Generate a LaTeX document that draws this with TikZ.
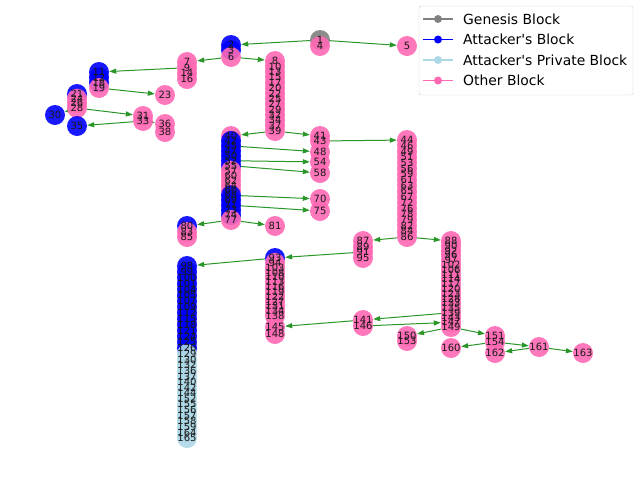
\documentclass[tikz,border=0pt]{standalone}
\usepackage{fontspec}
\setmainfont{DejaVu Sans}
\usetikzlibrary{arrows.meta}
\pgfdeclarelayer{bg}
\pgfsetlayers{bg,main}
\definecolor{genesis}{HTML}{808080}
\definecolor{attacker}{HTML}{0000FF}
\definecolor{private}{HTML}{ADD8E6}
\definecolor{other}{HTML}{FF69B4}
\definecolor{edgegreen}{HTML}{2A962A}
\tikzset{
  blk/.style={circle, minimum size=20pt, inner sep=0pt, fill opacity=0.9},
  lbl/.style={font=\fontsize{10}{10}\selectfont, inner sep=0pt, text=black!90},
  link/.style={draw=edgegreen, line width=1pt, -{Triangle[length=7pt,width=5pt]}},
  legtext/.style={font=\fontsize{13.9}{16}\selectfont, anchor=west, inner sep=0pt},
}
\begin{document}
\begin{tikzpicture}[x=1pt,y=-1pt]
\useasboundingbox (0,0) rectangle (640,480);

% ---- blocks ----
\node[blk, fill=genesis] (n1) at (320,40) {};
\node[blk, fill=attacker] (n2) at (231,45) {};
\node[blk, fill=attacker] (n3) at (231,50) {};
\node[blk, fill=other] (n4) at (320,46) {};
\node[blk, fill=other] (n5) at (407,46) {};
\node[blk, fill=other] (n6) at (231,57) {};
\foreach \n [count=\i from 0] in {7,9,14,16}
  \node[blk, fill=other] (n\n) at (187,{62+5.67*\i}) {};
\foreach \n [count=\i from 0] in {8,10,13,15,17,20,22,25,27,29,32,34,37,39}
  \node[blk, fill=other] (n\n) at (275,{61+5.385*\i}) {};
\foreach \n/\c [count=\i from 0] in {11/attacker,12/attacker,18/attacker,19/other}
  \node[blk, fill=\c] (n\n) at (99,{72+5.33*\i}) {};
\foreach \n/\c [count=\i from 0] in {21/attacker,24/other,26/other,28/other}
  \node[blk, fill=\c] (n\n) at (77,{94+4.67*\i}) {};
\node[blk, fill=other] (n23) at (165,95) {};
\node[blk, fill=attacker] (n30) at (55,115) {};
\node[blk, fill=other] (n31) at (143,116) {};
\node[blk, fill=other] (n33) at (143,121) {};
\node[blk, fill=attacker] (n35) at (77,126) {};
\node[blk, fill=other] (n36) at (165,124) {};
\node[blk, fill=other] (n38) at (165,132) {};
\foreach \n/\c [count=\i from 0] in {40/other,42/attacker,45/attacker,47/attacker,50/attacker,52/attacker,55/attacker,57/other,60/other,62/other,64/other,66/other,68/attacker,69/attacker,71/attacker,73/attacker,74/attacker,77/other}
  \node[blk, fill=\c] (n\n) at (231,{136+4.94*\i}) {};
\foreach \n/\y in {41/136,43/141,48/152,54/162,58/173,70/199,75/211}
  \node[blk, fill=other] (n\n) at (320,\y) {};
\foreach \n [count=\i from 0] in {44,46,49,51,53,56,59,61,63,65,67,72,76,78,79,82,84,86}
  \node[blk, fill=other] (n\n) at (407,{140+5.706*\i}) {};
\node[blk, fill=attacker] (n80) at (187,226) {};
\node[blk, fill=other] (n81) at (275,226) {};
\node[blk, fill=other] (n83) at (187,232) {};
\node[blk, fill=other] (n85) at (187,237) {};
\foreach \n/\y in {87/241,89/247,91/252,95/258}
  \node[blk, fill=other] (n\n) at (363,\y) {};
\foreach \n [count=\i from 0] in {88,90,92,96,97,102,106,111,114,117,120,123,128,133,135,139,143,147,149}
  \node[blk, fill=other] (n\n) at (451,{241+4.78*\i}) {};
\foreach \n/\c [count=\i from 0] in {93/attacker,94/other,103/other,108/other,110/other,113/other,116/other,119/other,122/other,127/other,131/other,134/other,138/other}
  \node[blk, fill=\c] (n\n) at (275,{258+4.833*\i}) {};
\node[blk, fill=other] (n145) at (275,327) {};
\node[blk, fill=other] (n148) at (275,334) {};
\foreach \n [count=\i from 0] in {98,99,100,101,104,105,107,109,112,115,118,121,124,125,126}
  \node[blk, fill=attacker] (n\n) at (187,{266+5.857*\i}) {};
\foreach \n [count=\i from 0] in {129,130,132,136,137,140,142,144,152,155,156,157,158,159,164,165}
  \node[blk, fill=private] (n\n) at (187,{354+5.6*\i}) {};
\node[blk, fill=other] (n141) at (363,320) {};
\node[blk, fill=other] (n146) at (363,326) {};
\node[blk, fill=other] (n150) at (407,336) {};
\node[blk, fill=other] (n151) at (495,336) {};
\node[blk, fill=other] (n153) at (407,341) {};
\node[blk, fill=other] (n154) at (495,342) {};
\node[blk, fill=other] (n160) at (451,348) {};
\node[blk, fill=other] (n161) at (539,347) {};
\node[blk, fill=other] (n162) at (495,353) {};
\node[blk, fill=other] (n163) at (583,353) {};

% ---- labels, above every block ----
\foreach \n in {1,...,165}
  \node[lbl] at (n\n) {\n};

% ---- chain links ----
\begin{pgfonlayer}{bg}
\draw[link] (n1) -- (n2);
\draw[link] (n1) -- (n5);
\draw[link] (n6) -- (n7);
\draw[link] (n6) -- (n8);
\draw[link] (n9) -- (n11);
\draw[link] (n19) -- (n23);
\draw[link] (n28) -- (n30);
\draw[link] (n28) -- (n31);
\draw[link] (n33) -- (n35);
\draw[link] (n33) -- (n36);
\draw[link] (n39) -- (n40);
\draw[link] (n39) -- (n41);
\draw[link] (n43) -- (n44);
\draw[link] (n45) -- (n48);
\draw[link] (n52) -- (n54);
\draw[link] (n55) -- (n58);
\draw[link] (n68) -- (n70);
\draw[link] (n71) -- (n75);
\draw[link] (n77) -- (n80);
\draw[link] (n77) -- (n81);
\draw[link] (n86) -- (n87);
\draw[link] (n86) -- (n88);
\draw[link] (n91) -- (n93);
\draw[link] (n93) -- (n98);
\draw[link] (n139) -- (n141);
\draw[link] (n146) -- (n147);
\draw[link] (n141) -- (n145);
\draw[link] (n149) -- (n150);
\draw[link] (n149) -- (n151);
\draw[link] (n154) -- (n160);
\draw[link] (n154) -- (n161);
\draw[link] (n161) -- (n162);
\draw[link] (n161) -- (n163);
\end{pgfonlayer}

% ---- legend ----
\draw[draw=black!20, fill=white, fill opacity=0.8, rounded corners=2pt] (419,6) rectangle (633,95);
\foreach \c/\t [count=\i from 0] in {genesis/Genesis Block,attacker/Attacker\textquotesingle s Block,private/Attacker\textquotesingle s Private Block,other/Other Block}{
  \draw[\c, line width=1.4pt] (423,{19+20.5*\i}) -- (453,{19+20.5*\i});
  \fill[\c] (438,{19+20.5*\i}) circle (4pt);
  \node[legtext] at (463,{19+20.5*\i}) {\t};
}
\end{tikzpicture}
\end{document}
